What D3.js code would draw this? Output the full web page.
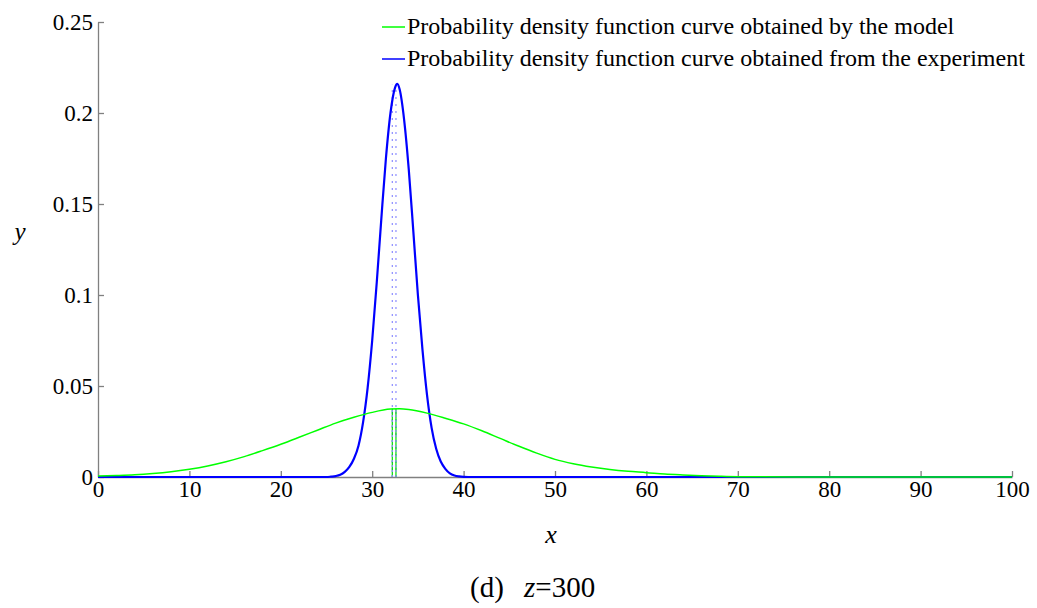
<!DOCTYPE html>
<html>
<head>
<meta charset="utf-8">
<script src="https://cdn.jsdelivr.net/npm/d3@7"></script>
<style>
  body { margin: 0; background: #fff; }
  svg text { font-family: "Liberation Serif", "Times New Roman", serif; fill: #000; }
</style>
</head>
<body>
<div id="chart"></div>
<script>
// Data
//-------------------------------------------------------
// model curve (green)
var modelX = [0, 2, 4, 6, 8, 10, 12, 14, 16, 18, 20, 22, 24, 26, 28, 30, 32, 33, 34, 36, 38, 40,
    42, 44, 46, 48, 50, 52, 54, 56, 58, 60, 62, 64, 66, 68, 70, 80, 90, 100];
var modelY = [0.0005, 0.0008, 0.0012, 0.0019, 0.0029, 0.0043, 0.0061, 0.0084, 0.0112, 0.0145,
    0.0180, 0.0218, 0.0257, 0.0296, 0.0328, 0.0355, 0.0373, 0.0375, 0.0371, 0.0351, 0.0323, 0.0292,
    0.0254, 0.0212, 0.0170, 0.0131, 0.0097, 0.0073, 0.0055, 0.0041, 0.0031, 0.0024, 0.0016, 0.0011,
    0.0007, 0.0004, 0.0002, 0, 0, 0];

// experiment curve (blue)
var expX = [0, 20, 25, 25.5, 26, 26.5, 27, 27.5, 28, 28.5, 29, 29.5, 30, 30.5, 31, 31.5, 32, 32.5,
    32.75, 33, 33.5, 34, 34.5, 35, 35.5, 36, 36.5, 37, 37.5, 38, 38.5, 39, 39.5, 40, 41, 100];
var expY = [0, 0, 0, 0.0002, 0.0005, 0.0012, 0.0028, 0.0055, 0.0100, 0.0172, 0.0300, 0.0490,
    0.0750, 0.1070, 0.1420, 0.1750, 0.2000, 0.2140, 0.2160, 0.2130, 0.1960, 0.1690, 0.1350,
    0.1000, 0.0700, 0.0450, 0.0270, 0.0155, 0.0085, 0.0045, 0.0020, 0.0008, 0.0003, 0.0001, 0, 0];

// mean markers
var markerX = [32.2, 32.6];
var modelPeak = 0.0375;
var expPeak = 0.2155;

var xTicks = [0, 10, 20, 30, 40, 50, 60, 70, 80, 90, 100];
var yTicks = [0, 0.05, 0.1, 0.15, 0.2, 0.25];
var yTickLabels = ["0", "0.05", "0.1", "0.15", "0.2", "0.25"];

var legendLabels = ["Probability density function curve obtained by the model",
    "Probability density function curve obtained from the experiment"];
var legendColors = ["#00ff00", "#0000ff"];

// SVG setup
//-------------------------------------------------------
var svgWidth = 1037;
var svgHeight = 608;

var margin = { top: 22, right: 25, bottom: 131, left: 98 };
var chartWidth = 1012 - margin.left;
var chartHeight = 477 - margin.top;

var svg = d3.select("#chart")
    .append("svg")
    .attr("width", svgWidth)
    .attr("height", svgHeight);

var chartGroup = svg.append("g")
    .attr("transform", `translate(${margin.left}, ${margin.top})`);

var xScale = d3.scaleLinear().domain([0, 100]).range([0, chartWidth]);
var yScale = d3.scaleLinear().domain([0, 0.25]).range([chartHeight, 0]);

// Axes (ticks point inward)
//-------------------------------------------------------
var bottomAxis = d3.axisBottom(xScale)
    .tickValues(xTicks)
    .tickFormat(d3.format("d"))
    .tickSizeInner(-6)
    .tickSizeOuter(0)
    .tickPadding(4);

var leftAxis = d3.axisLeft(yScale)
    .tickValues(yTicks)
    .tickFormat((d, i) => yTickLabels[i])
    .tickSizeInner(-6)
    .tickSizeOuter(0)
    .tickPadding(5);

var xAxis = chartGroup.append("g")
    .attr("transform", `translate(0, ${chartHeight})`)
    .call(bottomAxis);

var yAxis = chartGroup.append("g")
    .call(leftAxis);

[xAxis, yAxis].forEach(function(ax) {
    ax.select(".domain").attr("stroke", "#808080").attr("stroke-width", 1.3);
    ax.selectAll(".tick line").attr("stroke", "#808080").attr("stroke-width", 1.3);
    ax.selectAll(".tick text")
        .style("font-family", "'Liberation Serif', serif")
        .style("font-size", "23px")
        .attr("fill", "#000");
});
xAxis.selectAll(".tick text").attr("dy", "0.7em");

// Curves
//-------------------------------------------------------
var line = d3.line()
    .x(d => xScale(d[0]))
    .y(d => yScale(d[1]))
    .curve(d3.curveMonotoneX);

var expData = expX.map((x, i) => [x, expY[i]]);
var modelData = modelX.map((x, i) => [x, modelY[i]]);

// dotted blue markers up to the experiment peak
chartGroup.selectAll(".exp-marker")
    .data(markerX)
    .enter()
    .append("line")
    .attr("class", "exp-marker")
    .attr("x1", d => xScale(d))
    .attr("x2", d => xScale(d))
    .attr("y1", yScale(0))
    .attr("y2", yScale(expPeak))
    .attr("stroke", "#8c8cff")
    .attr("stroke-width", 1.2)
    .attr("stroke-dasharray", "2,5");

// green markers up to the model peak
chartGroup.selectAll(".model-marker")
    .data(markerX)
    .enter()
    .append("line")
    .attr("class", "model-marker")
    .attr("x1", d => xScale(d))
    .attr("x2", d => xScale(d))
    .attr("y1", yScale(0))
    .attr("y2", yScale(modelPeak))
    .attr("stroke", "#00e000")
    .attr("stroke-width", 1.2);

chartGroup.selectAll(".exp-marker2")
    .data(markerX)
    .enter()
    .append("line")
    .attr("x1", d => xScale(d))
    .attr("x2", d => xScale(d))
    .attr("y1", yScale(0))
    .attr("y2", yScale(modelPeak))
    .attr("stroke", "#8c8cff")
    .attr("stroke-width", 1.2)
    .attr("stroke-dasharray", "2,3");

chartGroup.append("path")
    .datum(expData)
    .attr("d", line)
    .attr("fill", "none")
    .attr("stroke", "#0000ff")
    .attr("stroke-width", 2.2);

chartGroup.append("path")
    .datum(modelData)
    .attr("d", line)
    .attr("fill", "none")
    .attr("stroke", "#00ff00")
    .attr("stroke-width", 1.5);

// Legend
//-------------------------------------------------------
var legend = svg.append("g");
legendLabels.forEach(function(label, i) {
    var y = 27 + i * 32;
    legend.append("line")
        .attr("x1", 382).attr("x2", 405)
        .attr("y1", y).attr("y2", y)
        .attr("stroke", legendColors[i])
        .attr("stroke-width", 1.5);
    legend.append("text")
        .attr("x", 407)
        .attr("y", y + 7)
        .style("font-size", "24px")
        .text(label);
});

// Axis labels and caption
//-------------------------------------------------------
svg.append("text")
    .attr("x", 20)
    .attr("y", 240)
    .attr("text-anchor", "middle")
    .style("font-size", "25px")
    .style("font-style", "italic")
    .text("y");

svg.append("text")
    .attr("x", 551)
    .attr("y", 543)
    .attr("text-anchor", "middle")
    .style("font-size", "26px")
    .style("font-style", "italic")
    .text("x");

var caption = svg.append("g").style("font-size", "29px");
caption.append("text").attr("x", 470).attr("y", 597).text("(d)");
var zText = caption.append("text").attr("x", 524).attr("y", 597);
zText.append("tspan").style("font-style", "italic").text("z");
zText.append("tspan").text("=300");
</script>
</body>
</html>
